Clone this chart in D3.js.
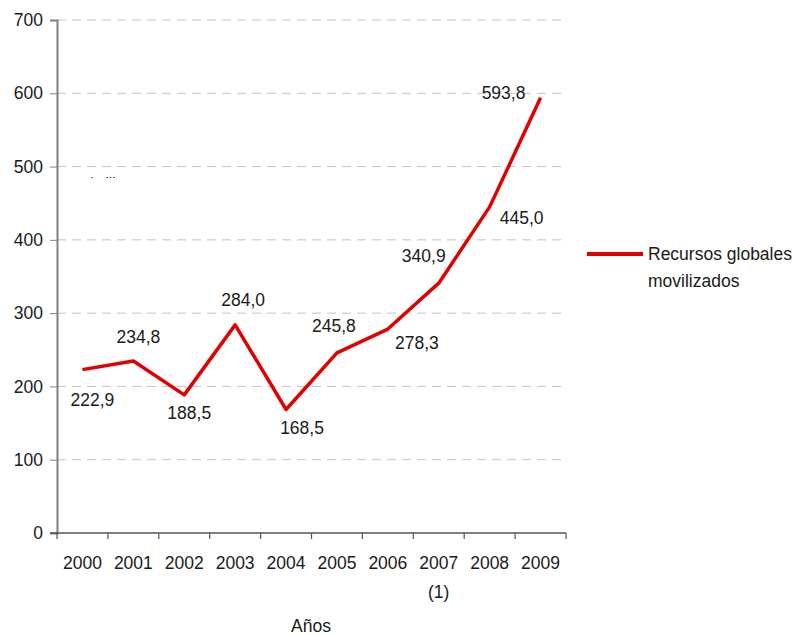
<!DOCTYPE html>
<html>
<head>
<meta charset="utf-8">
<script src="https://cdn.jsdelivr.net/npm/d3@7"></script>
<style>
  body { margin: 0; background: #fff; }
  text { font-family: "Liberation Sans", Arial, sans-serif; fill: #1a1a1a; }
</style>
</head>
<body>
<script>
const years = ["2000", "2001", "2002", "2003", "2004", "2005", "2006", "2007", "2008", "2009"];
const values = [222.9, 234.8, 188.5, 284.0, 168.5, 245.8, 278.3, 340.9, 445.0, 593.8];
const yTicks = [0, 100, 200, 300, 400, 500, 600, 700];
const seriesName = ["Recursos globales", "movilizados"];

// label offsets (dx, dy) relative to each point
const labelPos = [[10, 30], [5, -24], [5, 18], [8, -25], [16, 18], [-3, -27], [29, 14], [-15, -27], [32, 11], [-37, -5]];

const width = 795, height = 635;
const plotLeft = 57, plotRight = 566, plotTop = 20, plotBottom = 533;
const fs = "17.5px";

const svg = d3.select("body").append("svg")
    .attr("width", width).attr("height", height);

const x = d3.scaleBand().domain(years).range([plotLeft, plotRight]);
const y = d3.scaleLinear().domain([0, 700]).range([plotBottom, plotTop]);

// dashed grid
svg.append("g").selectAll("line").data(yTicks.filter(d => d > 0)).enter().append("line")
    .attr("x1", plotLeft).attr("x2", plotRight)
    .attr("y1", d => y(d)).attr("y2", d => y(d))
    .attr("stroke", "#c4c4c4").attr("stroke-width", 1)
    .attr("stroke-dasharray", "9,6");

// y axis
const yAxis = d3.axisLeft(y).tickValues(yTicks).tickSize(7).tickPadding(7);
const gy = svg.append("g").attr("transform", "translate(" + plotLeft + ",0)").call(yAxis);
gy.select(".domain").attr("stroke", "#808080").attr("stroke-width", 2);
gy.selectAll(".tick line").attr("stroke", "#808080");
gy.selectAll("text").style("font-size", fs).attr("fill", "#1a1a1a");

// x axis (ticks at band boundaries)
const gx = svg.append("g").attr("transform", "translate(0," + plotBottom + ")");
gx.append("line").attr("x1", plotLeft - 7).attr("x2", plotRight)
    .attr("stroke", "#555").attr("stroke-width", 1.5);
const bounds = years.map(d => x(d)).concat([plotRight]);
gx.selectAll(".tk").data(bounds).enter().append("line")
    .attr("x1", d => d).attr("x2", d => d)
    .attr("y1", 0).attr("y2", 6)
    .attr("stroke", "#555").attr("stroke-width", 1.2);
gx.selectAll(".lbl").data(years).enter().append("text")
    .attr("x", d => x(d) + x.bandwidth() / 2)
    .attr("y", 36)
    .attr("text-anchor", "middle")
    .style("font-size", fs)
    .text(d => d);
gx.append("text")
    .attr("x", x("2007") + x.bandwidth() / 2).attr("y", 65)
    .attr("text-anchor", "middle").style("font-size", fs).text("(1)");

svg.append("text").attr("x", 311).attr("y", 632)
    .attr("text-anchor", "middle").style("font-size", fs).text("Años");

// clipped leftover fragment
svg.append("clipPath").attr("id", "frag")
    .append("rect").attr("x", 80).attr("y", 170).attr("width", 40).attr("height", 8);
svg.append("text").attr("x", 88).attr("y", 188)
    .attr("clip-path", "url(#frag)")
    .style("font-size", "15px").text("(Mill");

// line
const line = d3.line()
    .x((d, i) => x(years[i]) + x.bandwidth() / 2)
    .y(d => y(d));
svg.append("path").datum(values)
    .attr("d", line)
    .attr("fill", "none")
    .attr("stroke", "#e00000")
    .attr("stroke-width", 3.5)
    .attr("stroke-linejoin", "round");

// value labels
svg.append("g").selectAll("text").data(values).enter().append("text")
    .attr("x", (d, i) => x(years[i]) + x.bandwidth() / 2 + labelPos[i][0])
    .attr("y", (d, i) => y(d) + labelPos[i][1] + 6)
    .attr("text-anchor", "middle")
    .style("font-size", fs)
    .text(d => d3.format(".1f")(d).replace(".", ","));

// legend
svg.append("line").attr("x1", 587).attr("x2", 643).attr("y1", 254).attr("y2", 254)
    .attr("stroke", "#e00000").attr("stroke-width", 4);
svg.append("g").selectAll("text").data(seriesName).enter().append("text")
    .attr("x", 648).attr("y", (d, i) => 260 + i * 27)
    .style("font-size", fs)
    .text(d => d);
</script>
</body>
</html>
